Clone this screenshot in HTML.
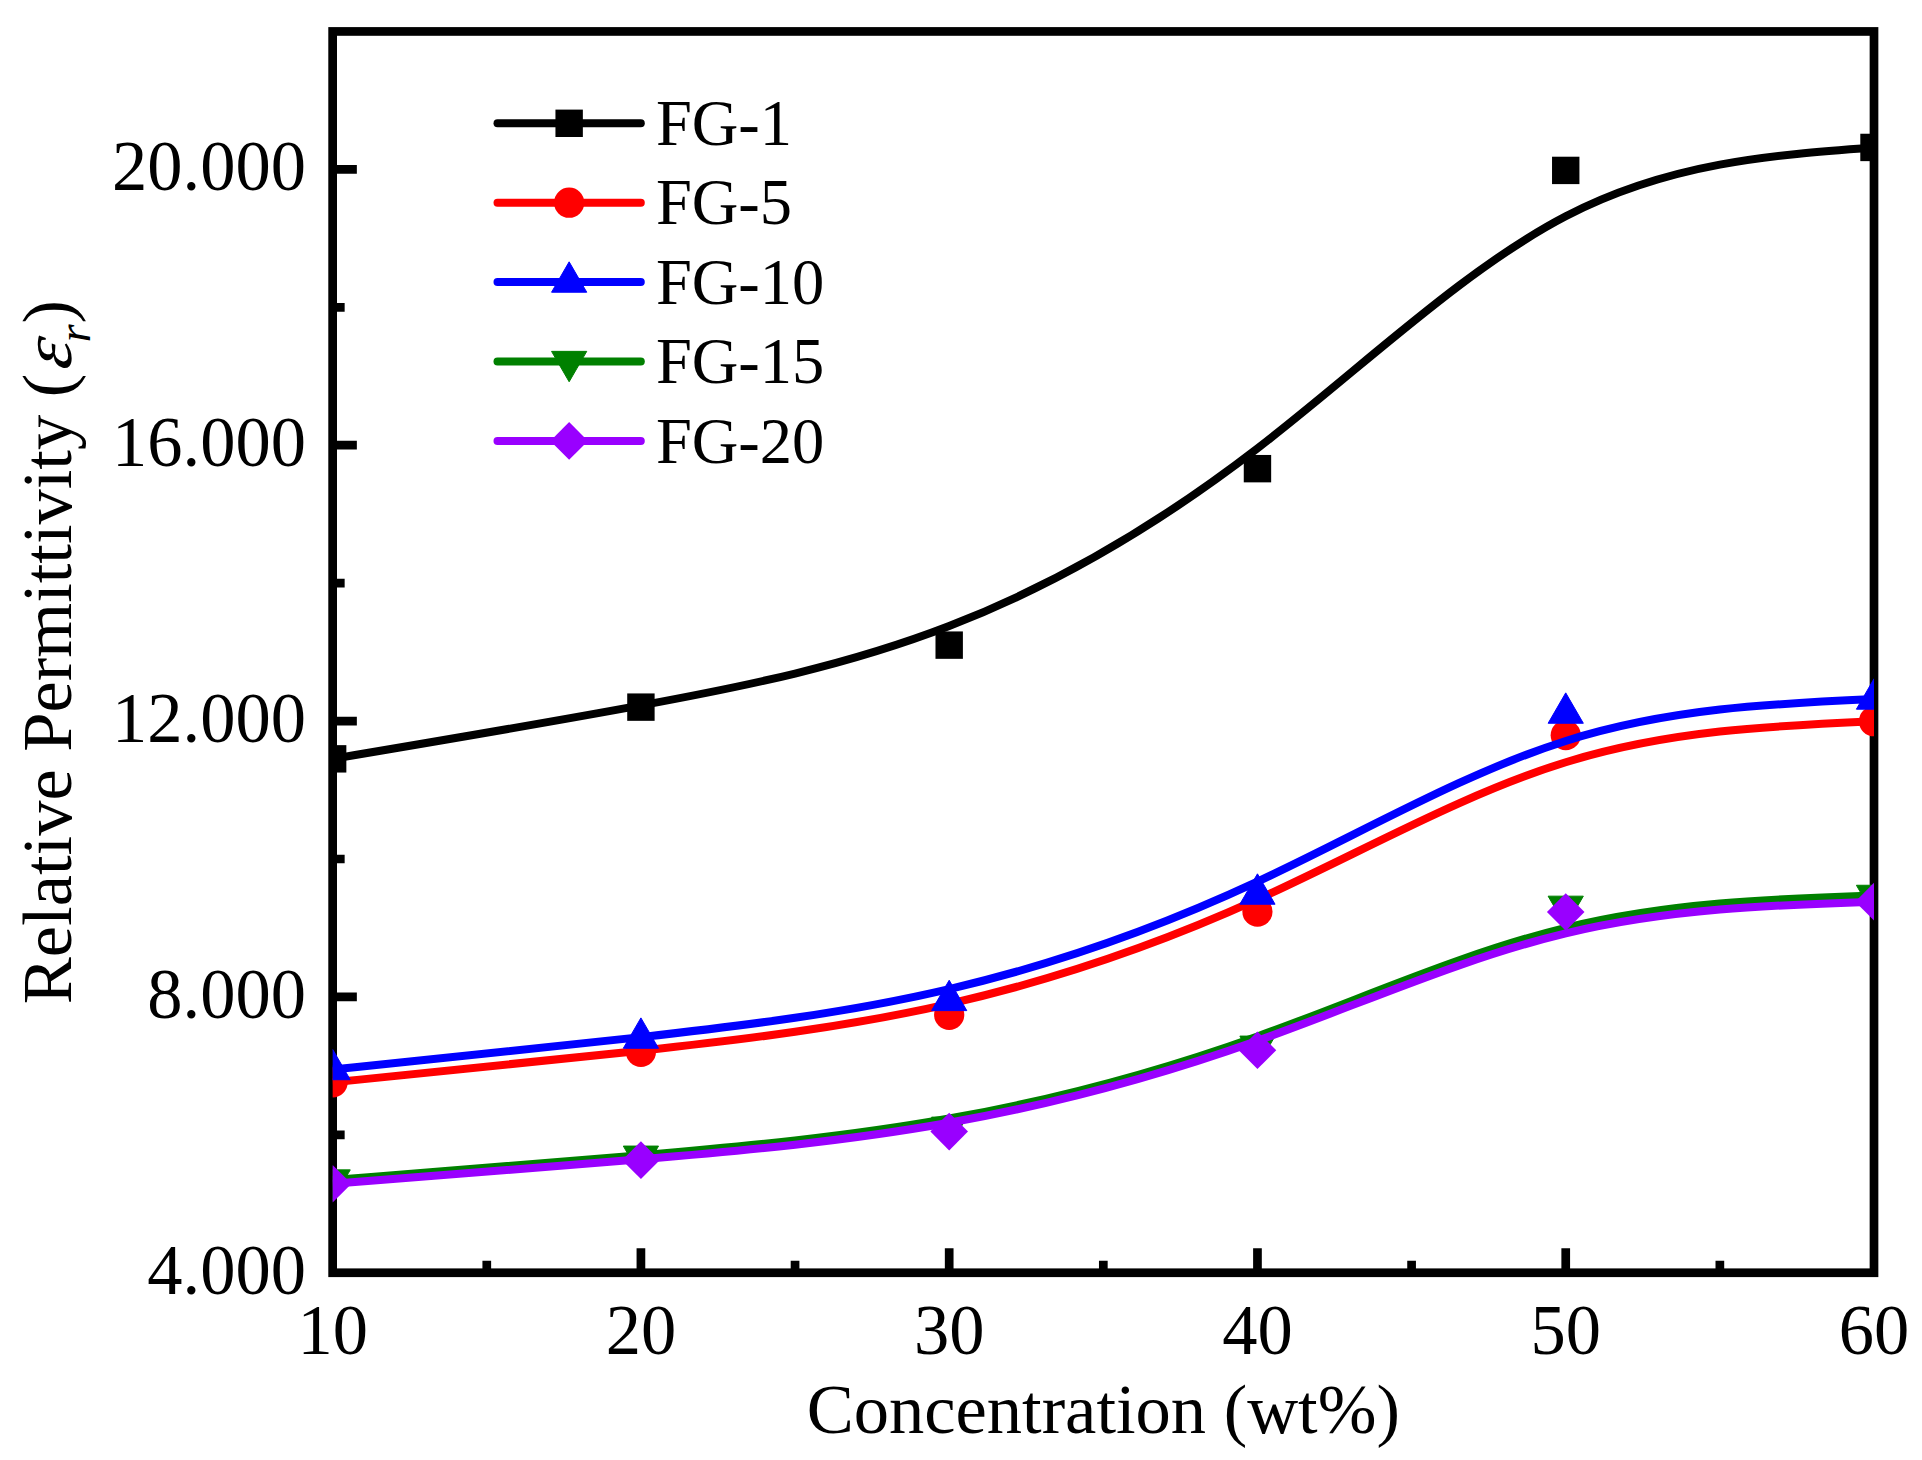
<!DOCTYPE html>
<html lang="en"><head><meta charset="utf-8"><title>Relative Permittivity vs Concentration</title>
<style>
html,body{margin:0;padding:0;background:#fff;}
body{width:1922px;height:1460px;overflow:hidden;}
svg{display:block;}
text{font-family:"Liberation Serif",serif;fill:#000;}
</style></head><body>
<svg width="1922" height="1460" viewBox="0 0 1922 1460">
<rect width="1922" height="1460" fill="#fff"/>
<defs><clipPath id="plot"><rect x="332.65" y="31.45" width="1541.35" height="1241.30"/></clipPath></defs>

<rect x="332.65" y="31.45" width="1541.35" height="1241.30" fill="none" stroke="#000" stroke-width="8.7"/>
<path d="M640.92 1272.75V1248.35M949.19 1272.75V1248.35M1257.46 1272.75V1248.35M1565.73 1272.75V1248.35M486.78 1272.75V1260.65M795.05 1272.75V1260.65M1103.32 1272.75V1260.65M1411.59 1272.75V1260.65M1719.86 1272.75V1260.65M332.65 996.91H356.85M332.65 721.06H356.85M332.65 445.22H356.85M332.65 169.37H356.85M332.65 1134.83H344.65M332.65 858.98H344.65M332.65 583.14H344.65M332.65 307.29H344.65" stroke="#000" stroke-width="8.7" fill="none"/>
<g clip-path="url(#plot)">
<path d="M332.65 758.85C435.41 741.61 538.16 724.37 640.92 705.42C743.68 686.47 846.43 665.80 949.19 626.06C1051.95 586.31 1154.70 527.49 1257.46 448.37C1360.22 369.24 1462.97 269.83 1565.73 216.29C1668.49 162.75 1771.24 155.10 1874.00 147.44" fill="none" stroke="#000000" stroke-width="8.0" stroke-linejoin="round" stroke-linecap="butt"/>
<rect x="318.95" y="745.15" width="27.4" height="27.4" fill="#000000"/>
<rect x="627.22" y="693.43" width="27.4" height="27.4" fill="#000000"/>
<rect x="935.49" y="631.43" width="27.4" height="27.4" fill="#000000"/>
<rect x="1243.76" y="454.96" width="27.4" height="27.4" fill="#000000"/>
<rect x="1552.03" y="156.71" width="27.4" height="27.4" fill="#000000"/>
<rect x="1860.30" y="133.74" width="27.4" height="27.4" fill="#000000"/>
<path d="M332.65 1082.28C435.41 1072.12 538.16 1061.96 640.92 1050.72C743.68 1039.48 846.43 1027.16 949.19 1003.80C1051.95 980.45 1154.70 946.06 1257.46 899.44C1360.22 852.82 1462.97 793.98 1565.73 762.24C1668.49 730.51 1771.24 725.89 1874.00 721.27" fill="none" stroke="#ff0000" stroke-width="8.0" stroke-linejoin="round" stroke-linecap="butt"/>
<circle cx="332.65" cy="1082.28" r="15.1" fill="#ff0000"/>
<circle cx="640.92" cy="1051.80" r="15.1" fill="#ff0000"/>
<circle cx="949.19" cy="1014.84" r="15.1" fill="#ff0000"/>
<circle cx="1257.46" cy="911.67" r="15.1" fill="#ff0000"/>
<circle cx="1565.73" cy="735.13" r="15.1" fill="#ff0000"/>
<circle cx="1874.00" cy="721.27" r="15.1" fill="#ff0000"/>
<path d="M332.65 1069.59C435.41 1059.11 538.16 1048.63 640.92 1037.11C743.68 1025.59 846.43 1013.04 949.19 989.03C1051.95 965.02 1154.70 929.55 1257.46 881.66C1360.22 833.77 1462.97 773.45 1565.73 740.94C1668.49 708.44 1771.24 703.75 1874.00 699.06" fill="none" stroke="#0000ff" stroke-width="8.0" stroke-linejoin="round" stroke-linecap="butt"/>
<path d="M332.65 1049.32L350.25 1079.72L315.05 1079.72Z" fill="#0000ff" stroke="#0000ff" stroke-width="1" stroke-linejoin="round"/>
<path d="M640.92 1017.88L658.52 1048.28L623.32 1048.28Z" fill="#0000ff" stroke="#0000ff" stroke-width="1" stroke-linejoin="round"/>
<path d="M949.19 980.22L966.79 1010.62L931.59 1010.62Z" fill="#0000ff" stroke="#0000ff" stroke-width="1" stroke-linejoin="round"/>
<path d="M1257.46 873.82L1275.06 904.22L1239.86 904.22Z" fill="#0000ff" stroke="#0000ff" stroke-width="1" stroke-linejoin="round"/>
<path d="M1565.73 692.86L1583.33 723.26L1548.13 723.26Z" fill="#0000ff" stroke="#0000ff" stroke-width="1" stroke-linejoin="round"/>
<path d="M1874.00 678.80L1891.60 709.20L1856.40 709.20Z" fill="#0000ff" stroke="#0000ff" stroke-width="1" stroke-linejoin="round"/>
<path d="M332.65 1180.00C435.41 1172.07 538.16 1164.14 640.92 1155.34C743.68 1146.55 846.43 1136.90 949.19 1118.56C1051.95 1100.23 1154.70 1073.22 1257.46 1036.40C1360.22 999.57 1462.97 952.93 1565.73 927.80C1668.49 902.66 1771.24 899.03 1874.00 895.39" fill="none" stroke="#008000" stroke-width="8.0" stroke-linejoin="round" stroke-linecap="butt"/>
<path d="M332.65 1200.26L350.25 1169.86L315.05 1169.86Z" fill="#008000" stroke="#008000" stroke-width="1" stroke-linejoin="round"/>
<path d="M640.92 1176.47L658.52 1146.07L623.32 1146.07Z" fill="#008000" stroke="#008000" stroke-width="1" stroke-linejoin="round"/>
<path d="M949.19 1147.51L966.79 1117.11L931.59 1117.11Z" fill="#008000" stroke="#008000" stroke-width="1" stroke-linejoin="round"/>
<path d="M1257.46 1066.48L1275.06 1036.08L1239.86 1036.08Z" fill="#008000" stroke="#008000" stroke-width="1" stroke-linejoin="round"/>
<path d="M1565.73 926.56L1583.33 896.16L1548.13 896.16Z" fill="#008000" stroke="#008000" stroke-width="1" stroke-linejoin="round"/>
<path d="M1874.00 915.66L1891.60 885.26L1856.40 885.26Z" fill="#008000" stroke="#008000" stroke-width="1" stroke-linejoin="round"/>
<path d="M332.65 1183.79C435.41 1175.91 538.16 1168.02 640.92 1159.32C743.68 1150.62 846.43 1141.10 949.19 1122.78C1051.95 1104.46 1154.70 1077.34 1257.46 1040.74C1360.22 1004.15 1462.97 958.08 1565.73 933.32C1668.49 908.57 1771.24 905.12 1874.00 901.67" fill="none" stroke="#9900ff" stroke-width="8.0" stroke-linejoin="round" stroke-linecap="butt"/>
<path d="M332.65 1164.99L351.45 1183.79L332.65 1202.59L313.85 1183.79Z" fill="#9900ff"/>
<path d="M640.92 1141.34L659.72 1160.14L640.92 1178.94L622.12 1160.14Z" fill="#9900ff"/>
<path d="M949.19 1112.79L967.99 1131.59L949.19 1150.39L930.39 1131.59Z" fill="#9900ff"/>
<path d="M1257.46 1031.41L1276.26 1050.21L1257.46 1069.01L1238.66 1050.21Z" fill="#9900ff"/>
<path d="M1565.73 893.21L1584.53 912.01L1565.73 930.81L1546.93 912.01Z" fill="#9900ff"/>
<path d="M1874.00 882.87L1892.80 901.67L1874.00 920.47L1855.20 901.67Z" fill="#9900ff"/>
</g>
<g font-size="70.5px">
<text transform="translate(332.65,1353.7) scale(1,1.016)" text-anchor="middle">10</text>
<text transform="translate(640.92,1353.7) scale(1,1.016)" text-anchor="middle">20</text>
<text transform="translate(949.19,1353.7) scale(1,1.016)" text-anchor="middle">30</text>
<text transform="translate(1257.46,1353.7) scale(1,1.016)" text-anchor="middle">40</text>
<text transform="translate(1565.73,1353.7) scale(1,1.016)" text-anchor="middle">50</text>
<text transform="translate(1874.00,1353.7) scale(1,1.016)" text-anchor="middle">60</text>
<text transform="translate(305.9,1293.85) scale(1,1.016)" text-anchor="end">4.000</text>
<text transform="translate(305.9,1018.01) scale(1,1.016)" text-anchor="end">8.000</text>
<text transform="translate(305.9,742.16) scale(1,1.016)" text-anchor="end">12.000</text>
<text transform="translate(305.9,466.32) scale(1,1.016)" text-anchor="end">16.000</text>
<text transform="translate(305.9,190.47) scale(1,1.016)" text-anchor="end">20.000</text>
<text x="1103.3" y="1432.7" text-anchor="middle">Concentration (wt%)</text>
<g transform="translate(71,1004.2) rotate(-90)"><text x="0" y="0">Relative Permittivity (</text><text transform="translate(633.2,0) skewX(-11) scale(1.06,1)" font-style="italic">ε</text><text x="661.9" y="19" font-style="italic" font-size="46px">r</text><text x="680.6" y="0">)</text></g>
</g>
<g font-size="64.5px">
<path d="M497.5 123.30H640.8" stroke="#000000" stroke-width="8" stroke-linecap="round" fill="none"/>
<rect x="555.45" y="109.60" width="27.4" height="27.4" fill="#000000"/>
<text x="655.9" y="145.00">FG-1</text>
<path d="M497.5 202.70H640.8" stroke="#ff0000" stroke-width="8" stroke-linecap="round" fill="none"/>
<circle cx="569.15" cy="202.70" r="15.1" fill="#ff0000"/>
<text x="655.9" y="224.40">FG-5</text>
<path d="M497.5 282.10H640.8" stroke="#0000ff" stroke-width="8" stroke-linecap="round" fill="none"/>
<path d="M569.15 261.83L586.75 292.23L551.55 292.23Z" fill="#0000ff" stroke="#0000ff" stroke-width="1" stroke-linejoin="round"/>
<text x="655.9" y="303.80">FG-10</text>
<path d="M497.5 361.50H640.8" stroke="#008000" stroke-width="8" stroke-linecap="round" fill="none"/>
<path d="M569.15 381.77L586.75 351.37L551.55 351.37Z" fill="#008000" stroke="#008000" stroke-width="1" stroke-linejoin="round"/>
<text x="655.9" y="383.20">FG-15</text>
<path d="M497.5 440.90H640.8" stroke="#9900ff" stroke-width="8" stroke-linecap="round" fill="none"/>
<path d="M569.15 422.10L587.95 440.90L569.15 459.70L550.35 440.90Z" fill="#9900ff"/>
<text x="655.9" y="462.60">FG-20</text>
</g>
</svg></body></html>
